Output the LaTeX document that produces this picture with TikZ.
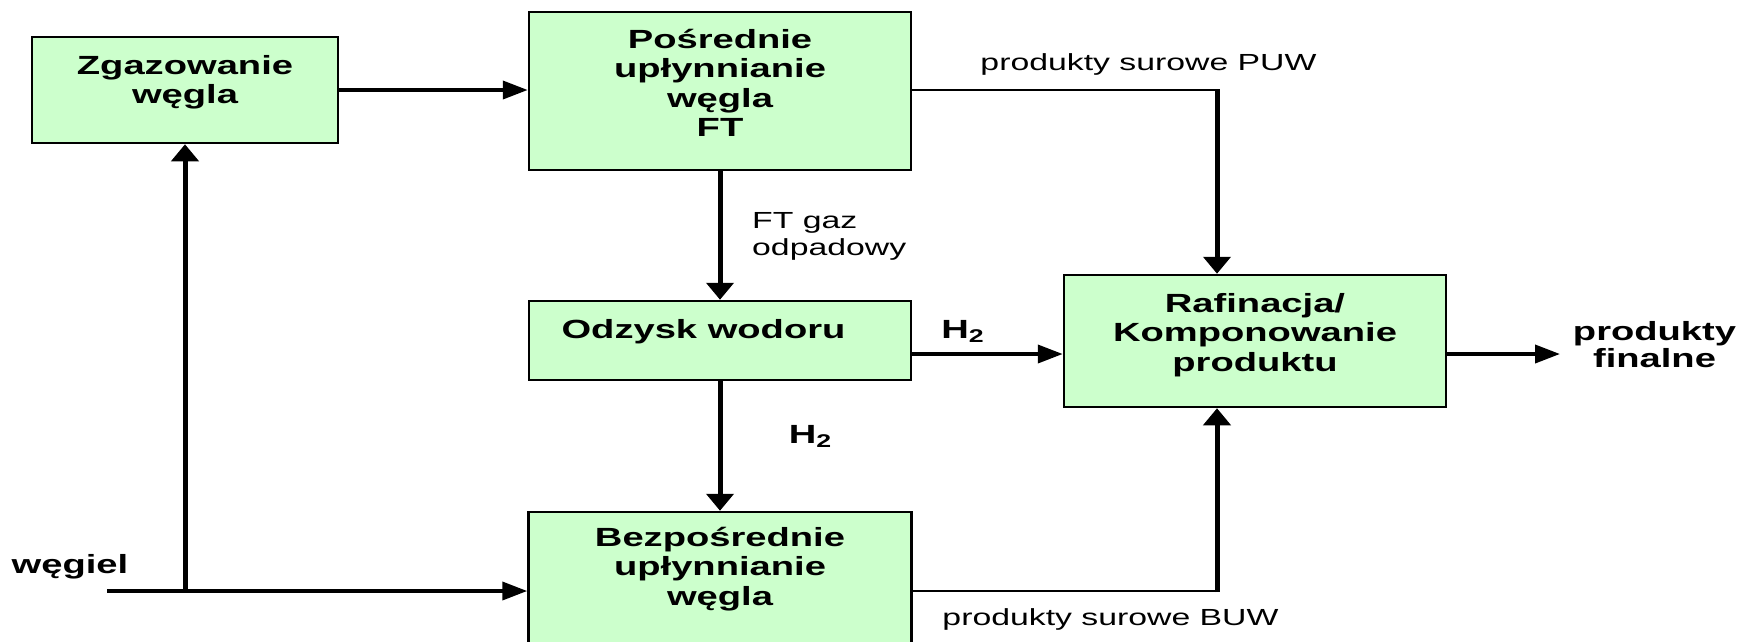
\documentclass[tikz,border=0pt]{standalone}
\usepackage{fontspec}
\setmainfont{Liberation Sans}
\usepackage{graphicx}
\usetikzlibrary{arrows.meta}
\definecolor{boxgreen}{HTML}{CCFFCC}
\newcommand\stx[2][c]{\scalebox{1.45}[1]{\begin{tabular}[t]{@{}#1@{}}#2\end{tabular}}}
\tikzset{
 box/.style={draw=black, line width=2.5pt, fill=boxgreen, inner sep=0pt},
 btxt/.style={font=\fontsize{26.3}{29.5}\selectfont\bfseries, inner sep=0pt, anchor=base},
 ntxt/.style={font=\fontsize{23.3}{27}\selectfont, inner sep=0pt, anchor=base},
 hline/.style={line width=3.8pt},
 vline/.style={line width=5pt},
 thinline/.style={line width=2pt},
 harrow/.style={-{Triangle[length=25pt,width=18pt]}},
 varrow/.style={-{Triangle[length=17pt,width=27pt]}},
}
\begin{document}
\begin{tikzpicture}[x=1pt,y=-1pt]
\useasboundingbox (0,0) rectangle (1742,641);
% boxes
\node[box, minimum width=306pt, minimum height=106pt] (Z) at (185,90) {};
\node[box, minimum width=382pt, minimum height=158pt] (P) at (720,91) {};
\node[box, minimum width=382pt, minimum height=79pt] (O) at (720,340.5) {};
\node[box, minimum width=383pt, minimum height=148pt] (B) at (720,586) {};
\node[box, minimum width=382pt, minimum height=132pt] (R) at (1255,341) {};
% box texts
\node[btxt] (Zt) at (185,74) {\stx{Zgazowanie\\węgla}};
\node[btxt] (Pt) at (720,48) {\stx{Pośrednie\\upłynnianie\\węgla\\FT}};
\node[btxt] (Ot) at (703.5,338) {\stx{Odzysk wodoru}};
\node[btxt] (Bt) at (720,546) {\stx{Bezpośrednie\\upłynnianie\\węgla}};
\node[btxt] (Rt) at (1255,312) {\stx{Rafinacja/\\Komponowanie\\produktu}};
% free labels
\node[btxt, font=\fontsize{26.3}{27.5}\selectfont\bfseries] (fin) at (1654.5,340) {\stx{produkty\\finalne}};
\node[btxt] (wl) at (70,573) {\stx{węgiel}};
\node[btxt] (h2a) at (963,338) {\stx{H\textsubscript{2}}};
\node[btxt] (h2b) at (810.5,443) {\stx{H\textsubscript{2}}};
\node[ntxt] (puw) at (1148.5,70) {\stx{produkty surowe PUW}};
\node[ntxt] (buw) at (1110.5,625) {\stx{produkty surowe BUW}};
\node[ntxt, anchor=base west] (ftg) at (752,228) {\stx[l]{FT gaz\\odpadowy}};
% coordinates
\coordinate (c1) at (1217,90);
\coordinate (c2) at (1217,591);
\coordinate (w0) at (107,591);
\coordinate (j) at (185,591);
\coordinate (hy) at (0,354);
\coordinate (out) at (1560,354);
% connectors
\draw[hline,harrow] (Z.east) -- (Z.east -| P.west);
\draw[thinline] (P.east |- c1) -- (c1);
\draw[vline,varrow] ([yshift=1pt]c1) -- (c1 |- R.north);
\draw[vline,varrow] (P.south) -- (O.north);
\draw[hline,harrow] (O.east |- hy) -- (R.west |- hy);
\draw[vline,varrow] (O.south) -- (B.north);
\draw[hline,harrow] (w0) -- (B.west |- w0);
\draw[vline,varrow] (j) -- (Z.south);
\draw[thinline] (B.east |- c2) -- (c2);
\draw[vline,varrow] ([yshift=-1pt]c2) -- (c2 |- R.south);
\draw[hline,harrow] (R.east |- hy) -- (out);
\end{tikzpicture}
\end{document}
